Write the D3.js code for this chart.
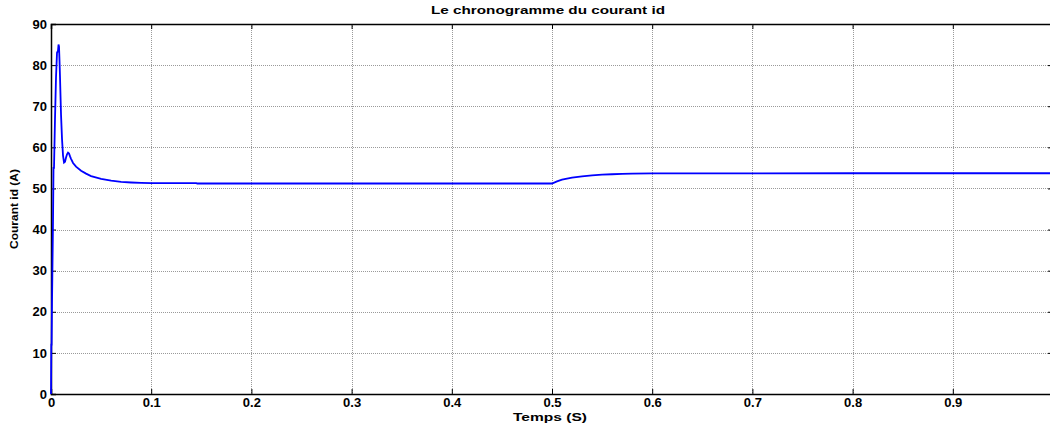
<!DOCTYPE html>
<html>
<head>
<meta charset="utf-8">
<script src="https://cdn.jsdelivr.net/npm/d3@7"></script>
<style>
  body { margin: 0; background: #fff; }
  svg { display: block; font-family: "Liberation Sans", Arial, sans-serif; }
  .grid line { stroke: #9a9a9a; stroke-dasharray: 1,1; shape-rendering: crispEdges; }
  .tick text { font-weight: bold; font-size: 13px; fill: #000; }
</style>
</head>
<body>
<div id="chart"></div>
<script>
// time (s) and current id (A)
const timeS = [0, 0.0003, 0.0006, 0.001, 0.0015, 0.002, 0.0025, 0.003, 0.004, 0.005, 0.006, 0.007, 0.0075, 0.008, 0.0085, 0.009,
  0.010, 0.011, 0.012, 0.013, 0.014, 0.015, 0.016, 0.017, 0.018, 0.019, 0.020, 0.022, 0.025, 0.03, 0.035, 0.04, 0.05,
  0.06, 0.07, 0.08, 0.09, 0.1, 0.145, 0.146, 0.5, 0.505, 0.51, 0.52, 0.53, 0.54, 0.55, 0.56, 0.57, 0.58, 0.6, 0.8, 1.0];
const currentA = [0, 12, 12, 22, 32, 42, 55, 55, 67, 77, 83, 83.5, 85, 84.5, 81, 77,
  68, 62, 58, 56.3, 56.5, 57.5, 58.3, 58.7, 58.5, 57.8, 57.2, 56.2, 55.3, 54.3, 53.6, 53, 52.3,
  51.9, 51.6, 51.45, 51.35, 51.3, 51.3, 51.2, 51.2, 51.7, 52.15, 52.65, 52.95, 53.2, 53.35, 53.45, 53.55, 53.6, 53.65, 53.7, 53.7];
const xTicks = [0, 0.1, 0.2, 0.3, 0.4, 0.5, 0.6, 0.7, 0.8, 0.9];
const yTicks = [0, 10, 20, 30, 40, 50, 60, 70, 80, 90];

const W = 1050, H = 427;
const margin = { top: 24, right: -3, bottom: 33, left: 51 };
const width = W - margin.left - margin.right;
const height = H - margin.top - margin.bottom;

const svg = d3.select("#chart").append("svg")
  .attr("width", W).attr("height", H);
const g = svg.append("g").attr("transform", `translate(${margin.left},${margin.top})`);

const x = d3.scaleLinear().domain([0, 1]).range([0, width]);
const y = d3.scaleLinear().domain([0, 90]).range([height, 0]);

// grid
g.append("g").attr("class", "grid")
  .selectAll("line").data(xTicks.slice(1)).join("line")
  .attr("x1", d => Math.round(x(d)) + 0.5).attr("x2", d => Math.round(x(d)) + 0.5)
  .attr("y1", 0).attr("y2", height);
g.append("g").attr("class", "grid")
  .selectAll("line").data(yTicks.slice(1)).join("line")
  .attr("x1", 0).attr("x2", width)
  .attr("y1", d => Math.round(y(d)) + 0.5).attr("y2", d => Math.round(y(d)) + 0.5);

// axes with inward ticks
g.append("g").attr("transform", `translate(0,${height})`)
  .call(d3.axisBottom(x).tickValues(xTicks).tickFormat(d => d === 0 ? "0" : d3.format(".1f")(d)).tickSize(-5).tickPadding(4))
  .call(a => a.select(".domain").attr("stroke-width", 1.5));
g.append("g")
  .call(d3.axisLeft(y).tickValues(yTicks).tickSize(-5).tickPadding(4))
  .call(a => a.select(".domain").attr("stroke-width", 1.5));
g.append("g")
  .call(d3.axisTop(x).tickValues(xTicks).tickFormat("").tickSize(-5))
  .call(a => a.select(".domain").attr("stroke-width", 1.5));
g.append("g").attr("transform", `translate(${width},0)`)
  .call(d3.axisRight(y).tickValues(yTicks).tickFormat("").tickSize(-5));

// curve
const line = d3.line().x((d, i) => x(timeS[i])).y(d => y(d));
g.append("path").datum(currentA)
  .attr("fill", "none").attr("stroke", "#0000ff").attr("stroke-width", 1.8)
  .attr("d", line);

// title and labels
svg.append("text").attr("x", 548).attr("y", 14).attr("text-anchor", "middle")
  .attr("textLength", 234).attr("lengthAdjust", "spacingAndGlyphs")
  .style("font-weight", "bold").style("font-size", "11px").text("Le chronogramme du courant id");
svg.append("text").attr("x", 550).attr("y", 421).attr("text-anchor", "middle")
  .attr("textLength", 74).attr("lengthAdjust", "spacingAndGlyphs")
  .style("font-weight", "bold").style("font-size", "11px").text("Temps (S)");
svg.append("text").attr("transform", `translate(18,${margin.top + height / 2}) rotate(-90)`)
  .attr("text-anchor", "middle")
  .attr("textLength", 80).attr("lengthAdjust", "spacingAndGlyphs")
  .style("font-weight", "bold").style("font-size", "11px").text("Courant id (A)");
</script>
</body>
</html>
